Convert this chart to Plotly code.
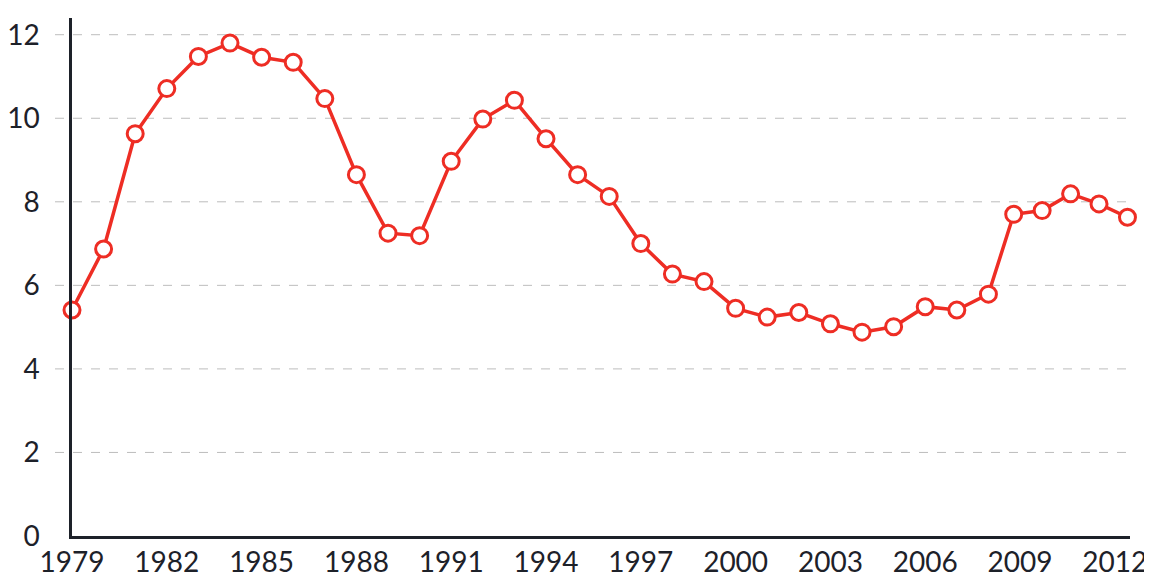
import plotly.graph_objects as go

# Data
years = [1979, 1980, 1981, 1982, 1983, 1984, 1985, 1986, 1987, 1988,
         1989, 1990, 1991, 1992, 1993, 1994, 1995, 1996, 1997, 1998,
         1999, 2000, 2001, 2002, 2003, 2004, 2005, 2006, 2007, 2008,
         2008.8, 2009.7, 2010.6, 2011.5, 2012.4]
values = [5.41, 6.87, 9.63, 10.71, 11.48, 11.80, 11.46, 11.34, 10.47, 8.65,
          7.25, 7.19, 8.97, 9.98, 10.43, 9.51, 8.65, 8.13, 7.00, 6.27,
          6.09, 5.45, 5.24, 5.35, 5.08, 4.88, 5.01, 5.49, 5.41, 5.79,
          7.70, 7.79, 8.19, 7.95, 7.63]
x_ticks = [1979, 1982, 1985, 1988, 1991, 1994, 1997, 2000, 2003, 2006, 2009, 2012]
y_ticks = [0, 2, 4, 6, 8, 10, 12]

RED = "#ee2d24"
TEXT = "#1d2129"
FONT = "Lato"

fig = go.Figure()
fig.add_trace(go.Scatter(
    x=years, y=values, mode="lines+markers",
    line=dict(color=RED, width=3.5),
    marker=dict(size=16, color="white", line=dict(color=RED, width=3)),
    hoverinfo="x+y", showlegend=False, cliponaxis=False,
))

# dashed gridlines extending slightly left of the axis
for t in y_ticks[1:]:
    fig.add_shape(type="line", xref="paper", yref="y",
                  x0=-17 / 1058, x1=1, y0=t, y1=t,
                  line=dict(color="#bdbdbd", width=1, dash="dash"),
                  layer="below")

# margins compensate for the page's 8px body margin
fig.update_layout(
    width=1152, height=576,
    margin=dict(l=64, r=30, t=10, b=48),
    paper_bgcolor="white", plot_bgcolor="white",
    font=dict(family=FONT, size=28, color=TEXT),
    xaxis=dict(range=[1979, 2012.48], tickvals=x_ticks,
               ticktext=[str(v) for v in x_ticks],
               tickfont=dict(size=28),
               showgrid=False, zeroline=False, showline=True,
               linecolor=TEXT, linewidth=2.5, ticks="",
               ticklabelstandoff=0, automargin=False),
    yaxis=dict(range=[0, 12.4], tickvals=y_ticks,
               ticktext=[str(v) for v in y_ticks],
               tickfont=dict(size=28),
               showgrid=False, zeroline=False, showline=True,
               linecolor=TEXT, linewidth=2.5, ticks="",
               ticklabelstandoff=24, automargin=False),
)

fig.write_html("out.html")
